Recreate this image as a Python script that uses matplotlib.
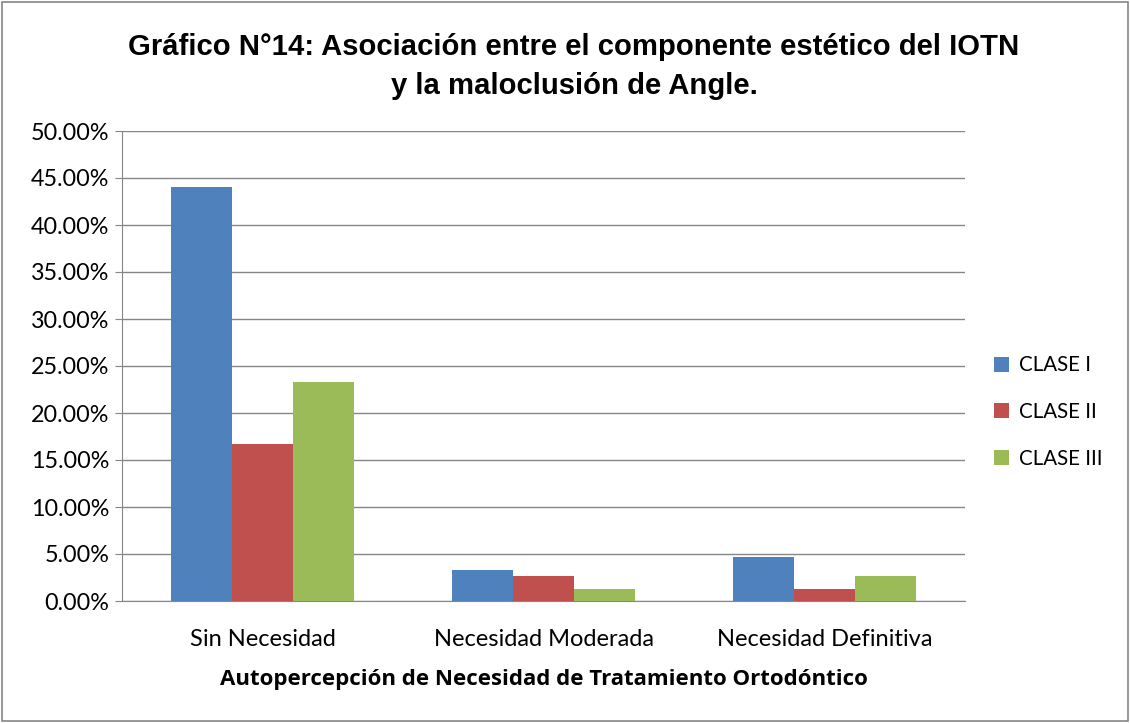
import numpy as np
import matplotlib.pyplot as plt
from matplotlib.patches import Rectangle
from matplotlib.ticker import FuncFormatter

# Data
categorias = ['Sin Necesidad', 'Necesidad Moderada', 'Necesidad Definitiva']
series = ['CLASE I', 'CLASE II', 'CLASE III']
clase_1 = [44.0, 3.3, 4.7]
clase_2 = [16.7, 2.7, 1.3]
clase_3 = [23.3, 1.3, 2.7]
colores = ['#4F81BD', '#C0504D', '#9BBB59']

fig = plt.figure(figsize=(11.3, 7.23), dpi=100)
W, H = 1130, 723
ax = fig.add_axes([122 / W, 1 - 601 / H, (965 - 122) / W, (601 - 131) / H])

# outer chart border
fig.patches.append(Rectangle((2 / W, 2 / H), 1 - 4 / W, 1 - 4 / H, transform=fig.transFigure,
                             fill=False, edgecolor='#868686', linewidth=1.2))

x = np.arange(len(categorias))
w = 0.216
for i, (vals, name) in enumerate(zip([clase_1, clase_2, clase_3], series)):
    ax.bar(x + (i - 1) * w, vals, width=w, color=colores[i], label=name, zorder=3)

ax.set_xlim(-0.5, 2.5)
ax.set_ylim(0, 50)
ax.set_yticks(np.arange(0, 51, 5))
ax.yaxis.set_major_formatter(FuncFormatter(lambda v, p: f'{v:.2f}%'))
ax.grid(axis='y', color='#868686', linewidth=1, zorder=0)
ax.set_xticks(x)
ax.set_xticklabels(categorias)

for s in ['top', 'right']:
    ax.spines[s].set_visible(False)
ax.spines['left'].set_color('#868686')
ax.spines['bottom'].set_color('#868686')
ax.tick_params(axis='y', length=5, color='#868686', labelsize=16.8, pad=4)
ax.tick_params(axis='x', length=0, labelsize=17, pad=20)
for lab in ax.get_xticklabels() + ax.get_yticklabels():
    lab.set_family('Lato')

ax.set_xlabel('Autopercepción de Necesidad de Tratamiento Ortodóntico', fontsize=16,
              fontweight='bold', family='Open Sans', labelpad=14)

tx = 0.5 + 9 / W
fig.text(tx, 1 - 47 / H, 'Gráfico N°14: Asociación entre el componente estético del IOTN',
         ha='center', va='center', fontsize=21.1, fontweight='bold', family='Liberation Sans')
fig.text(tx, 1 - 86 / H, 'y la maloclusión de Angle.',
         ha='center', va='center', fontsize=21.1, fontweight='bold', family='Liberation Sans')

leg = fig.legend(loc='center left', bbox_to_anchor=(975 / W, 1 - 412 / H), frameon=False,
                 prop={'family': 'Lato', 'size': 14.8}, handlelength=0.75, handleheight=0.75,
                 labelspacing=1.3, handletextpad=0.5)

plt.savefig('out.png', dpi=100)
